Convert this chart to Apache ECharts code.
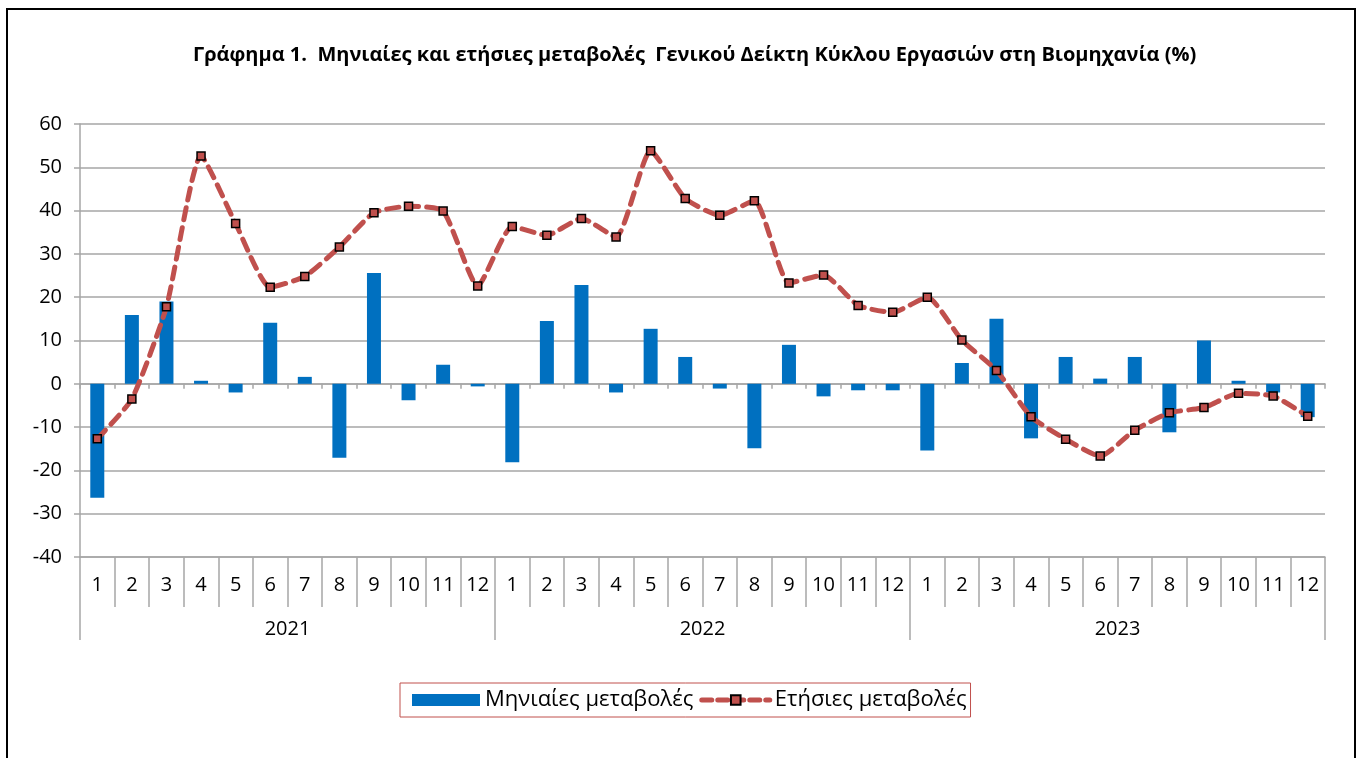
<!DOCTYPE html>
<html>
<head>
<meta charset="utf-8">
<title>Γράφημα 1</title>
<script src="https://cdn.jsdelivr.net/npm/echarts@6/dist/echarts.min.js"></script>
<style>
    html, body {margin: 0; padding: 0; background: #fff;}
    #main {width: 1361px; height: 758px;}
</style>
</head>
<body>
<div id="main"></div>
<script>
/*----- δεδομένα -----*/
var years = ['2021', '2022', '2023'];
var months = ['1', '2', '3', '4', '5', '6', '7', '8', '9', '10', '11', '12'];
// Μηνιαίες μεταβολές (%)
var monthly2021 = [-26.3, 15.9, 19.0, 0.7, -2.0, 14.1, 1.6, -17.1, 25.6, -3.8, 4.4, -0.6];
var monthly2022 = [-18.1, 14.5, 22.8, -2.0, 12.7, 6.2, -1.1, -14.9, 9.0, -2.9, -1.5, -1.5];
var monthly2023 = [-15.4, 4.8, 15.0, -12.6, 6.2, 1.2, 6.2, -11.2, 10.0, 0.7, -2.0, -7.7];
// Ετήσιες μεταβολές (%)
var annual2021 = [-12.7, -3.5, 17.8, 52.6, 37.0, 22.3, 24.8, 31.6, 39.5, 41.0, 39.9, 22.6];
var annual2022 = [36.3, 34.3, 38.2, 33.9, 53.8, 42.8, 38.9, 42.3, 23.3, 25.1, 18.1, 16.5];
var annual2023 = [20.0, 10.1, 3.1, -7.6, -12.8, -16.7, -10.7, -6.7, -5.5, -2.2, -2.8, -7.5];

var monthLabels = months.concat(months, months);
var monthlyData = monthly2021.concat(monthly2022, monthly2023);
var annualData = annual2021.concat(annual2022, annual2023);

var font = '"Open Sans", "Noto Sans", sans-serif';
var gridGray = '#a6a6a6';
var lineRed = '#c0504d';

var myChart = echarts.init(document.getElementById('main'));
var option = {
    animation: false,
    textStyle: {fontFamily: font},
    title: {
        text: 'Γράφημα 1.  Μηνιαίες και ετήσιες μεταβολές  Γενικού Δείκτη Κύκλου Εργασιών στη Βιομηχανία (%)',
        left: 193,
        top: 45,
        padding: 0,
        textStyle: {fontFamily: font, fontSize: 20, fontWeight: 'bold', color: '#000'}
    },
    // εξωτερικό πλαίσιο
    graphic: [{
        type: 'rect',
        shape: {x: 7, y: 9, width: 1348, height: 770},
        style: {fill: 'none', stroke: '#000', lineWidth: 2},
        silent: true
    }],
    legend: {
        left: 400,
        top: 683,
        width: 620,
        padding: [6, 4, 6, 12],
        itemGap: 6,
        itemWidth: 68,
        itemHeight: 12,
        borderColor: lineRed,
        borderWidth: 1,
        textStyle: {fontFamily: font, fontSize: 22, color: '#000'},
        data: [
            {name: 'Μηνιαίες μεταβολές', icon: 'rect'},
            {name: 'Ετήσιες μεταβολές', lineStyle: {width: 5, type: [10, 6], color: lineRed}}
        ]
    },
    grid: {left: 80, right: 36, top: 124, bottom: 201, containLabel: false},
    xAxis: [
        {   // μήνες
            type: 'category',
            data: monthLabels,
            position: 'bottom',
            axisLine: {onZero: false, lineStyle: {color: gridGray, width: 1.5}},
            axisTick: {show: true, interval: 0, length: 50, lineStyle: {color: gridGray, width: 1.5}},
            axisLabel: {interval: 0, margin: 18, fontSize: 20, color: '#000', fontFamily: font}
        },
        {   // έτη
            type: 'category',
            data: years,
            position: 'bottom',
            axisLine: {show: false, onZero: false},
            axisTick: {show: true, length: 83, lineStyle: {color: gridGray, width: 1.5}},
            axisLabel: {margin: 62, fontSize: 20, color: '#000', fontFamily: font}
        },
        {   // άξονας στο μηδέν
            type: 'category',
            data: monthLabels,
            position: 'bottom',
            axisLine: {onZero: true, lineStyle: {color: gridGray, width: 1.5}},
            axisTick: {show: true, interval: 0, length: 5, lineStyle: {color: gridGray, width: 1.5}},
            axisLabel: {show: false}
        }
    ],
    yAxis: {
        type: 'value',
        min: -40,
        max: 60,
        interval: 10,
        axisLine: {show: true, lineStyle: {color: gridGray, width: 1.5}},
        axisTick: {show: true, length: 6, lineStyle: {color: gridGray, width: 1.5}},
        axisLabel: {margin: 18, fontSize: 20, color: '#000', fontFamily: font},
        splitLine: {lineStyle: {color: gridGray, width: 1.5}}
    },
    series: [
        {
            name: 'Μηνιαίες μεταβολές',
            type: 'bar',
            xAxisIndex: 0,
            barWidth: 14,
            itemStyle: {color: '#0070c0'},
            data: monthlyData
        },
        {
            name: 'Ετήσιες μεταβολές',
            type: 'line',
            xAxisIndex: 0,
            smooth: 0.18,
            symbol: 'rect',
            symbolSize: 8,
            lineStyle: {color: lineRed, width: 5, type: [12, 8], cap: 'round'},
            itemStyle: {color: lineRed, borderColor: '#000', borderWidth: 1.5},
            data: annualData
        }
    ]
};
myChart.setOption(option);
</script>
</body>
</html>
